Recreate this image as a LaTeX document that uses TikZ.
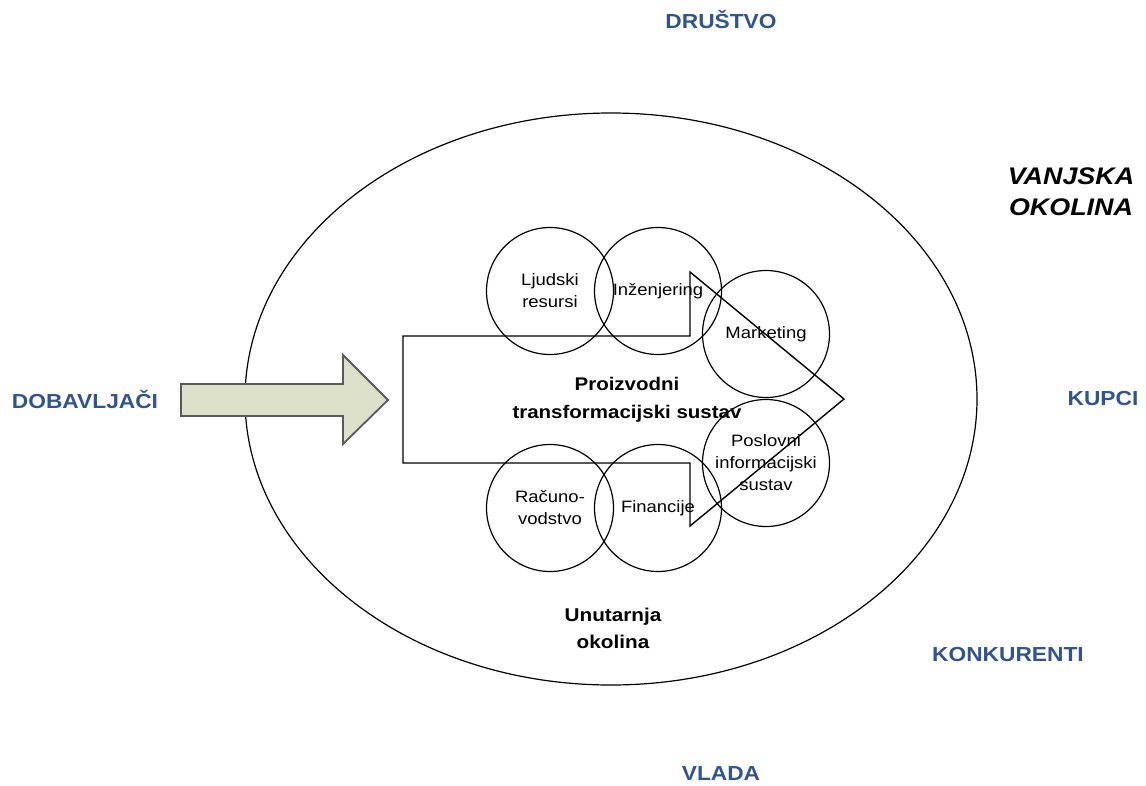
\documentclass[tikz,border=0pt]{standalone}
\usepackage{fontspec}
\setmainfont[FakeStretch=1.12]{Liberation Sans}
\definecolor{envblue}{RGB}{47,84,143}
\definecolor{inputgreen}{RGB}{220,224,200}

\begin{document}
\begin{tikzpicture}[x=1pt,y=-1pt]
  \tikzstyle{env}=[font=\fontsize{20.3}{23}\selectfont\bfseries,text=envblue]
  \tikzstyle{unit}=[circle,draw,line width=1.2pt,minimum size=127pt,inner sep=0pt,align=center,font=\fontsize{16.5}{22}\selectfont]
  \tikzstyle{title}=[align=center,font=\fontsize{18.3}{28}\selectfont\bfseries]
  \useasboundingbox (0,0) rectangle (1146,785);
  % unutarnja okolina
  \draw[line width=1.2pt] (611,399) ellipse [x radius=366pt,y radius=286pt];
  % ulaz
  \draw[fill=inputgreen,draw=black!65,line width=1.8pt] (181,384) -- (343,384) -- (343,355) -- (388,400)
    -- (343,444) -- (343,416) -- (181,416) -- cycle;
  % transformacijski sustav
  \draw[line width=1.4pt] (403,336) -- (690,336) -- (690,272) -- (844,399) -- (690,526) -- (690,463)
    -- (403,463) -- cycle;
  \node[title] (sustav) at (627,400) {Proizvodni\\transformacijski sustav};
  % funkcije
  \node[unit] (ljudski) at (550,291) {Ljudski\\resursi};
  \node[unit] (inzenjering) at (658,291) {Inženjering};
  \node[unit] (marketing) at (766,334) {Marketing};
  \node[unit] (poslovni) at (766,463) {Poslovni\\informacijski\\sustav};
  \node[unit] (racunovodstvo) at (550,508) {Računo-\\vodstvo};
  \node[unit] (financije) at (658,508) {Financije};
  \node[title,font=\fontsize{18.5}{27}\selectfont\bfseries] (unutarnja) at (613,628) {Unutarnja\\okolina};
  % vanjska okolina
  \node[align=center,font=\fontsize{24}{31}\selectfont\bfseries\itshape] (vanjska) at (1071,192) {VANJSKA\\OKOLINA};
  \node[env] (drustvo) at (721,20) {DRUŠTVO};
  \node[env] (dobavljaci) at (85,399) {DOBAVLJAČI};
  \node[env] (kupci) at (1103,399) {KUPCI};
  \node[env] (konkurenti) at (1008,655) {KONKURENTI};
  \node[env] (vlada) at (721,774) {VLADA};
\end{tikzpicture}
\end{document}
